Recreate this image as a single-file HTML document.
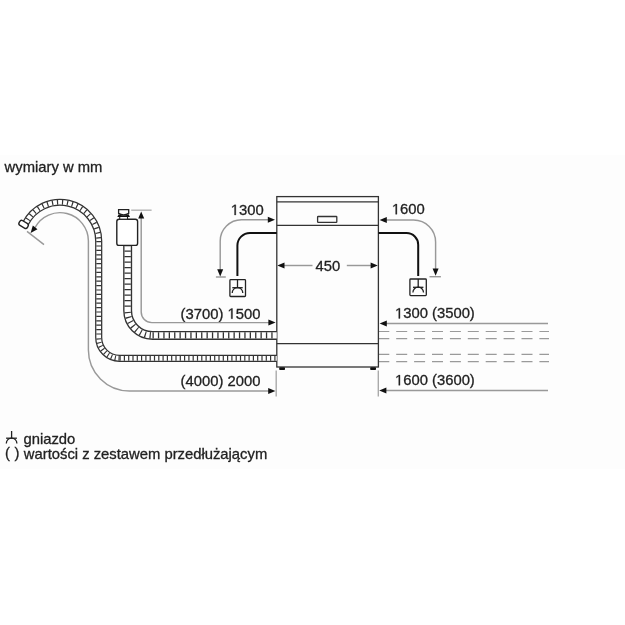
<!DOCTYPE html>
<html><head><meta charset="utf-8">
<style>
html,body{margin:0;padding:0;background:#fff;}
svg{display:block;}
text{font-family:"Liberation Sans",sans-serif;font-size:14.8px;fill:#222;stroke:#222;stroke-width:0.3px;}
.t use{fill:#222;stroke:#222;stroke-width:41.5px;}
svg{filter:grayscale(100%);}
</style></head>
<body>
<svg width="625" height="625" viewBox="0 0 625 625">
<rect x="0" y="0" width="625" height="625" fill="#fff"/>
<rect x="0" y="155" width="625" height="314" fill="#fdfdfd"/>

<!-- texts -->
<defs><path id="one" d="M515 0V1237L197 1010V1180L530 1409H696V0Z"/></defs>
<g class="t">
<text x="4.6" y="171.5">wymiary w mm</text>
<text x="230.8" y="215">&#x2007;300</text>
<use href="#one" transform="translate(230.80 215.00) scale(0.007227 -0.007227)"/>
<text x="391.9" y="214.3">&#x2007;600</text>
<use href="#one" transform="translate(391.90 214.30) scale(0.007227 -0.007227)"/>
<text x="315.6" y="270.6">450</text>
<text x="180.6" y="318.7">(3700) &#x2007;500</text>
<use href="#one" transform="translate(227.49 318.70) scale(0.007227 -0.007227)"/>
<text x="180.6" y="385.6">(4000) 2000</text>
<text x="395.0" y="318.4">&#x2007;300 (3500)</text>
<use href="#one" transform="translate(395.00 318.40) scale(0.007227 -0.007227)"/>
<text x="395.0" y="385.3">&#x2007;600 (3600)</text>
<use href="#one" transform="translate(395.00 385.30) scale(0.007227 -0.007227)"/>
<text x="23.5" y="444.2">gniazdo</text>
<text x="5.0" y="458.4">(</text>
<text x="14.5" y="458.4">)</text>
<text x="23.8" y="459.3">wartości z zestawem przedłużającym</text>
</g>
<!-- gray dimension lines -->
<g fill="none" stroke="#999" stroke-width="1.45">
  <!-- drain hose length -->
  <path d="M35 227.6 A28.4 28.4 0 0 1 88.4 241 L88.4 350 A41 41 0 0 0 129.4 391 L269 391"/>
  <line x1="27" y1="231.4" x2="44" y2="244.6"/>
  <!-- inlet hose length -->
  <path d="M141.2 217 L141.2 312 A10.6 10.6 0 0 0 151.8 322.6 L269 322.6"/>
  <line x1="131.2" y1="210.2" x2="151.6" y2="210.2" stroke="#b5b5b5"/>
  <!-- left socket -->
  <path d="M269 219.8 L241.5 219.8 A21.3 21.3 0 0 0 220.2 241.1 L220.2 270"/>
  <line x1="215.9" y1="277" x2="225.8" y2="277"/>
  <!-- right socket -->
  <path d="M386 220 L413.6 220 A22 22 0 0 1 435.6 242 L435.6 269"/>
  <line x1="429.5" y1="276.7" x2="440.9" y2="276.7"/>
  <!-- 450 -->
  <line x1="284" y1="265.5" x2="312.5" y2="265.5"/>
  <line x1="346.8" y1="265.5" x2="371" y2="265.5"/>
  <!-- right dims -->
  <line x1="386" y1="323.5" x2="548" y2="323.5"/>
  <line x1="386" y1="390.4" x2="548" y2="390.4"/>
  <!-- vertical refs below box -->
  <line x1="276.2" y1="370.4" x2="276.2" y2="396.6" stroke="#aaa" stroke-width="1.4"/>
  <line x1="378.3" y1="370.4" x2="378.3" y2="396.6" stroke="#aaa" stroke-width="1.4"/>
</g>
<!-- dashed lines -->
<g stroke="#9a9a9a" stroke-width="1.2" stroke-dasharray="11 6.9">
  <line x1="378.3" y1="331.5" x2="549" y2="331.5"/>
  <line x1="378.3" y1="338.7" x2="549" y2="338.7"/>
  <line x1="378.3" y1="354.4" x2="549" y2="354.4"/>
  <line x1="378.3" y1="361.6" x2="549" y2="361.6"/>
</g>

<!-- arrowheads -->
<g fill="#111">
  <polygon points="30.60,232.90 32.81,225.42 37.47,229.20"/>
  <polygon points="141.20,211.40 144.20,218.60 138.20,218.60"/>
  <polygon points="275.60,322.50 268.40,325.50 268.40,319.50"/>
  <polygon points="275.40,391.00 268.20,394.00 268.20,388.00"/>
  <polygon points="275.00,219.80 267.80,222.80 267.80,216.80"/>
  <polygon points="220.20,276.40 217.20,269.20 223.20,269.20"/>
  <polygon points="379.60,220.00 386.80,217.00 386.80,223.00"/>
  <polygon points="435.60,275.80 432.60,268.60 438.60,268.60"/>
  <polygon points="277.30,265.50 284.50,262.50 284.50,268.50"/>
  <polygon points="377.80,265.50 370.60,268.50 370.60,262.50"/>
  <polygon points="379.60,323.50 386.80,320.50 386.80,326.50"/>
  <polygon points="379.20,390.40 386.40,387.40 386.40,393.40"/>
</g>

<!-- appliance box -->
<g fill="none" stroke="#333" stroke-width="1.3">
  <rect x="276.8" y="196.6" width="101.6" height="170.4"/>
  <line x1="276.8" y1="201.8" x2="378.4" y2="201.8"/>
  <line x1="276.8" y1="225.4" x2="378.4" y2="225.4"/>
  <line x1="276.8" y1="343.7" x2="378.4" y2="343.7"/>
  <rect x="317.6" y="216.5" width="19.2" height="5.8" rx="0.6"/>
</g>
<g fill="#111">
  <rect x="279.2" y="367.2" width="5.8" height="2.8" rx="0.8"/>
  <rect x="370.2" y="367.2" width="5.8" height="2.8" rx="0.8"/>
</g>

<!-- power cables -->
<g fill="none" stroke="#111" stroke-width="2">
  <path d="M276.8 232.9 L250 232.9 A12.6 12.6 0 0 0 237.4 245.5 L237.4 276"/>
  <path d="M378.4 233.1 L406.6 233.1 A11.6 11.6 0 0 1 418.2 244.7 L418.2 276"/>
</g>

<!-- sockets -->
<g fill="none" stroke="#222" stroke-width="1.3">
  <rect x="229.9" y="279.6" width="15.6" height="16.9" rx="0.8"/>
  <line x1="237.5" y1="279.6" x2="237.5" y2="287.6"/>
  <line x1="232.3" y1="287.7" x2="242.7" y2="287.7"/>
  <path d="M232.2 292.9 A5.3 5.3 0 0 1 242.8 292.9"/>
  <rect x="409.9" y="279" width="16.4" height="16.6" rx="0.8"/>
  <line x1="418.2" y1="279" x2="418.2" y2="287"/>
  <line x1="413" y1="287.3" x2="423.4" y2="287.3"/>
  <path d="M412.9 292.5 A5.3 5.3 0 0 1 423.5 292.5"/>
  <!-- legend socket -->
  <line x1="11.6" y1="431" x2="11.6" y2="438"/>
  <line x1="6.1" y1="438.2" x2="16.9" y2="438.2"/>
  <path d="M6.3 443.4 A5.3 5.3 0 0 1 16.9 443.4"/>
</g>

<!-- drain hose -->
<g fill="none">
  <path d="M25.22 224.03 A38.7 38.7 0 0 1 98.7 241 L98.7 337.5 A20.8 20.8 0 0 0 119.5 358.3 L276.8 358.3" stroke="#333" stroke-width="7.2"/>
  <path d="M25.22 224.03 A38.7 38.7 0 0 1 98.7 241 L98.7 337.5 A20.8 20.8 0 0 0 119.5 358.3 L276.8 358.3" stroke="#fff" stroke-width="4.7"/>
  <g stroke="#333" stroke-width="4.8">
    <path d="M25.22 224.03 A38.7 38.7 0 0 1 98.7 241" stroke-dasharray="1.2 3.8"/>
    <path d="M98.7 241 L98.7 337.5" stroke-dasharray="1.2 3.2"/>
    <path d="M98.7 337.5 A20.8 20.8 0 0 0 119.5 358.3" stroke-dasharray="1.1 2.7" stroke-dashoffset="-1"/>
    <path d="M119.5 358.3 L276.8 358.3" stroke-dasharray="1.2 3.1"/>
  </g>
</g>
<!-- drain end cap -->
<rect x="18.8" y="221.7" width="9.6" height="5.4" rx="2.2" transform="rotate(30.6 23.6 224.4)" fill="#fff" stroke="#222" stroke-width="1.4"/>

<!-- inlet hose -->
<g fill="none">
  <path d="M127.65 245 L127.65 310.55 A24.85 24.85 0 0 0 152.5 335.4 L276.8 335.4" stroke="#333" stroke-width="9"/>
  <path d="M127.65 245 L127.65 310.55 A24.85 24.85 0 0 0 152.5 335.4 L276.8 335.4" stroke="#fff" stroke-width="6.3"/>
  <g stroke="#333" stroke-width="6.4">
    <path d="M127.65 245 L127.65 310.55" stroke-dasharray="1.3 4.2"/>
    <path d="M127.65 310.55 A24.85 24.85 0 0 0 152.5 335.4" stroke-dasharray="1.2 3.7" stroke-dashoffset="-1.5"/>
    <path d="M152.5 335.4 L276.8 335.4" stroke-dasharray="1.3 4.1"/>
  </g>
</g>
<!-- inlet connector -->
<g stroke="#222" stroke-width="1.4" fill="#fff">
  <rect x="116.8" y="219.2" width="20.8" height="26.2" rx="2.2"/>
  <rect x="119.7" y="216.2" width="7.8" height="3" stroke-width="1.1"/>
  <path d="M118.6 209.6 H128.7 V213.4 Q123.65 216.6 118.6 213.4 Z" stroke-width="1.3"/>
</g>
<path d="M117.3 216.9 L118.7 214.3 Q123.65 217.2 128.6 214.3 L130 216.9 Z" fill="#111"/>

</svg>
</body></html>
